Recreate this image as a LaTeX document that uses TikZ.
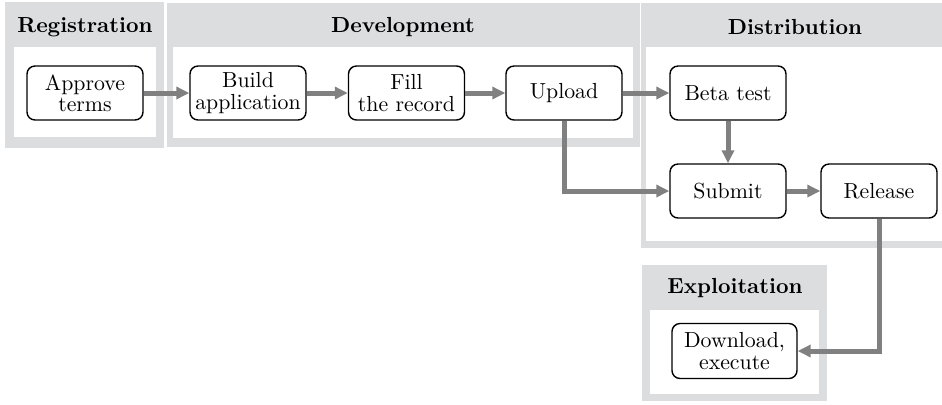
\documentclass[tikz,border=0pt]{standalone}
\usetikzlibrary{arrows.meta,calc}
\definecolor{framegray}{RGB}{220,221,223}
\definecolor{arrowgray}{RGB}{128,128,128}
\tikzset{
  box/.style={draw=black, line width=0.7pt, rounded corners=4pt, fill=white,
    minimum width=58pt, minimum height=27pt, align=center, inner sep=1pt,
    font=\fontsize{10.9}{10.6}\selectfont},
  flow/.style={draw=arrowgray, line width=2.5pt,
    -{Triangle[length=6.5pt,width=6pt]}},
  head/.style={font=\fontsize{10.9}{12}\selectfont\bfseries},
}
\begin{document}
\begin{tikzpicture}[x=0.5pt,y=-0.5pt]
\useasboundingbox (0,0) rectangle (942,404);
% frames
\fill[framegray] (5,2) rectangle (164,148);
\fill[white] (14,47) rectangle (156,137);
\fill[framegray] (167,3) rectangle (640,147);
\fill[white] (173,47) rectangle (633,138);
\fill[framegray] (641,3) rectangle (942,248);
\fill[white] (646,47) rectangle (942,241);
\fill[framegray] (642,265) rectangle (827,401);
\fill[white] (650,310) rectangle (819,394);
% headers
\node[head] (hreg) at (85,27) {Registration};
\node[head] (hdev) at (403,27) {Development};
\node[head] (hdis) at (795,27) {Distribution};
\node[head] (hexp) at (735,288) {Exploitation};
% nodes
\node[box] (approve) at (85,93) {Approve\\terms};
\node[box] (build) at (248,93) {Build\\application};
\node[box] (fill) at (406.5,93) {Fill\\the record};
\node[box] (upload) at (564,93) {Upload};
\node[box] (beta) at (728,93) {Beta test};
\node[box] (submit) at (728,191) {Submit};
\node[box] (release) at (879,191) {Release};
\node[box, minimum width=62.5pt, minimum height=27.5pt] (download) at (734.5,351) {Download,\\execute};
% connectors
\draw[flow] (approve.east) -- (build.west);
\draw[flow] (build.east) -- (fill.west);
\draw[flow] (fill.east) -- (upload.west);
\draw[flow] (upload.east) -- (beta.west);
\draw[flow] (beta.south) -- (submit.north);
\draw[flow] (submit.east) -- (release.west);
\draw[flow] (upload.south) |- (submit.west);
\draw[flow] (release.south) |- (download.east);
\end{tikzpicture}
\end{document}
